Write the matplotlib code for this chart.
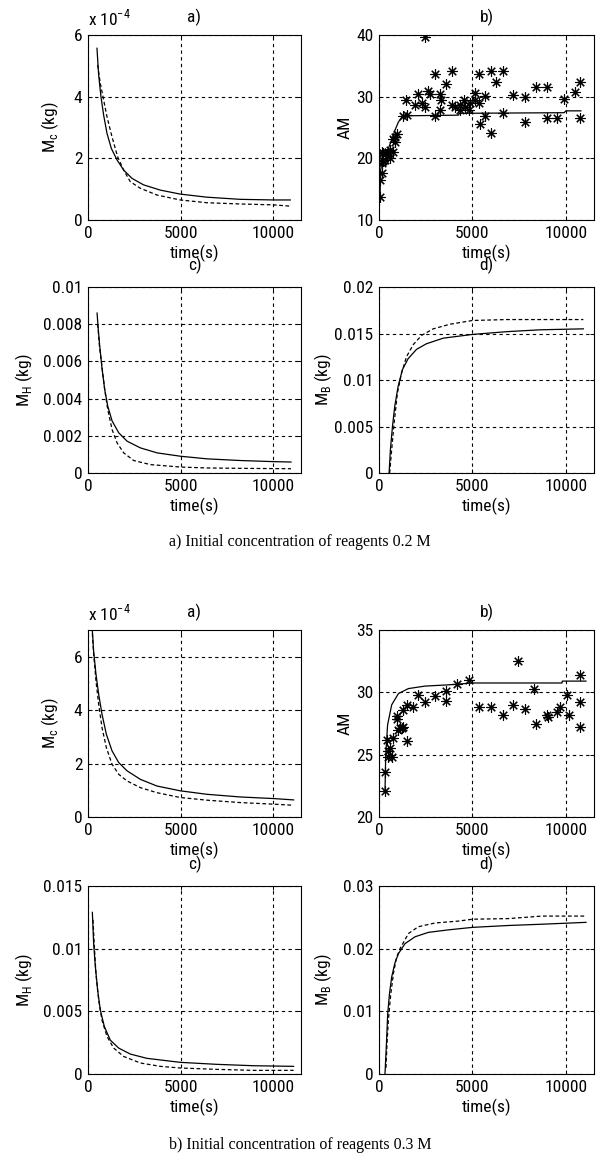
import matplotlib
matplotlib.use('Agg')
import matplotlib.pyplot as plt
from matplotlib.ticker import FuncFormatter

plt.rcParams['font.family'] = ['Roboto Condensed', 'Liberation Sans Narrow', 'DejaVu Sans']
plt.rcParams['font.stretch'] = 'condensed'
plt.rcParams['font.size'] = 12
plt.rcParams['mathtext.fontset'] = 'custom'

# ---------------- 0.2 M ----------------
# a) M_c, in units of 1e-4 kg
t_mc02_sol = [485, 575, 700, 845, 1025, 1260, 1565, 1925, 2375, 3000, 3900, 4980, 6420, 8220, 10020, 10920]
mc02_sol = [5.57, 4.7, 4.0, 3.4, 2.81, 2.32, 1.95, 1.62, 1.35, 1.14, 0.97, 0.84, 0.74, 0.67, 0.65, 0.65]
t_mc02_das = [520, 665, 845, 1025, 1295, 1600, 1925, 2285, 2825, 3720, 4980, 6420, 8220, 10020, 10920]
mc02_das = [5.03, 4.43, 3.89, 3.35, 2.7, 2.05, 1.62, 1.24, 1.03, 0.81, 0.65, 0.56, 0.52, 0.49, 0.45]

# b) AM, model and measurements
t_am02_mod = [55, 90, 180, 320, 500, 680, 860, 1040, 1210, 1480, 4250, 4300, 9900, 10000, 10800]
am02_mod = [13.8, 18.1, 20.0, 20.8, 21.6, 23.0, 24.6, 25.9, 26.6, 26.9, 27.0, 27.3, 27.4, 27.7, 27.7]
t_am02_exp = [55, 55, 140, 180, 230, 320, 410, 500, 590, 770, 860, 860, 950, 770, 230, 140, 590,
              1300, 1430, 1520, 1930, 2110, 2290, 2460, 2460, 2640, 2730, 3000, 3000, 3270, 3270,
              3320, 3590, 3890, 3890, 4070, 4340, 4340, 4520, 4610, 4790, 4880, 5110, 5140, 5360,
              5360, 5410, 5680, 5680, 6000, 6000, 6250, 6625, 6625, 7160, 7820, 7820, 8390, 8980,
              8980, 9520, 9880, 10500, 10770, 10770]
am02_exp = [13.8, 16.5, 17.6, 19.2, 20.8, 19.7, 20.3, 21.1, 20.0, 21.1, 22.7, 23.5, 24.0, 23.2, 19.5,
            21.1, 21.4, 26.9, 29.4, 27.0, 28.6, 30.4, 28.9, 39.7, 28.4, 30.9, 30.5, 33.6, 26.9,
            30.4, 27.8, 29.5, 32.1, 34.2, 28.6, 28.4, 28.6, 27.8, 29.5, 28.4, 27.8, 28.9, 30.6,
            29.5, 28.9, 33.6, 25.5, 30.1, 26.9, 34.1, 24.1, 32.4, 34.1, 27.4, 30.3, 30.0, 25.9,
            31.5, 31.5, 26.6, 26.6, 29.7, 30.8, 32.3, 26.5]

# c) M_H (kg)
t_mh02_sol = [490, 540, 630, 760, 900, 1065, 1300, 1660, 2110, 2830, 3740, 5000, 6440, 8250, 10050, 10960]
mh02_sol = [0.0086, 0.0079, 0.00685, 0.00559, 0.0045, 0.0036, 0.0028, 0.00216, 0.00171, 0.00135,
            0.00108, 0.0009, 0.00076, 0.00067, 0.00061, 0.00059]
t_mh02_das = [525, 615, 760, 900, 1065, 1300, 1570, 1930, 2470, 3380, 5000, 6440, 8250, 10960]
mh02_das = [0.008, 0.00685, 0.00568, 0.0045, 0.00342, 0.00234, 0.00162, 0.00108, 0.00067, 0.00045,
            0.00032, 0.00027, 0.00025, 0.00023]

# d) M_B (kg)
t_mb02_sol = [540, 610, 720, 840, 1020, 1250, 1560, 2010, 2540, 3440, 5000, 6850, 8640, 10930]
mb02_sol = [0.0, 0.0025, 0.005, 0.00714, 0.0093, 0.0111, 0.0123, 0.0133, 0.0139, 0.0145, 0.0149,
            0.0152, 0.0154, 0.0155]
t_mb02_das = [570, 660, 810, 985, 1200, 1470, 1830, 2280, 2900, 3800, 5000, 6850, 8640, 10930]
mb02_das = [0.0, 0.0021, 0.0054, 0.0086, 0.0107, 0.0125, 0.0138, 0.0148, 0.0155, 0.016, 0.0164,
            0.0165, 0.0165, 0.0165]

# ---------------- 0.3 M ----------------
t_mc03_sol = [215, 305, 430, 575, 755, 990, 1295, 1655, 2105, 2825, 3720, 4980, 6420, 8220, 10020, 11100]
mc03_sol = [7.2, 6.2, 5.35, 4.6, 3.85, 3.1, 2.48, 2.04, 1.73, 1.41, 1.16, 0.98, 0.85, 0.75, 0.69, 0.64]
t_mc03_das = [215, 305, 430, 575, 755, 990, 1295, 1655, 2105, 2825, 3720, 4980, 6420, 8220, 10020, 11100]
mc03_das = [7.1, 6.1, 5.1, 4.23, 3.35, 2.6, 1.98, 1.6, 1.35, 1.1, 0.91, 0.73, 0.63, 0.54, 0.48, 0.44]

t_am03_mod = [320, 360, 460, 680, 1040, 1570, 2460, 3710, 5000, 9790, 9800, 11070]
am03_mod = [22.0, 25.0, 27.4, 29.0, 29.9, 30.3, 30.5, 30.6, 30.75, 30.75, 30.9, 30.9]
t_am03_exp = [320, 320, 500, 590, 680, 410, 770, 1480, 1040, 1210, 1300, 950, 950, 1300, 1480, 1840,
              2110, 2460, 3000, 3590, 3590, 4160, 4820, 5360, 6000, 6625, 7160, 7820, 7430, 8270,
              8390, 8980, 9040, 9520, 9700, 10050, 10180, 10770, 10770, 10770, 1125, 500]
am03_exp = [22.1, 23.6, 25.3, 25.5, 24.8, 26.2, 26.3, 26.1, 27.0, 27.1, 27.2, 27.9, 28.1, 28.6, 29.0,
            28.8, 29.8, 29.2, 29.7, 30.1, 29.3, 30.7, 31.0, 28.8, 28.8, 28.2, 29.0, 28.7, 32.5,
            30.3, 27.5, 28.2, 28.0, 28.4, 28.8, 29.8, 28.2, 31.4, 29.2, 27.2, 27.1, 24.8]

t_mh03_sol = [235, 305, 395, 520, 665, 880, 1205, 1655, 2285, 3180, 4980, 6960, 8940, 11100]
mh03_sol = [0.0129, 0.0104, 0.0086, 0.0067, 0.0051, 0.0038, 0.0027, 0.00207, 0.00159, 0.00125,
            0.00093, 0.00077, 0.00066, 0.00061]
t_mh03_das = [270, 340, 430, 575, 755, 1025, 1385, 1925, 2825, 3900, 4980, 6960, 8940, 11100]
mh03_das = [0.0123, 0.0102, 0.008, 0.0059, 0.0043, 0.003, 0.00207, 0.0014, 0.00088, 0.00061,
            0.00048, 0.00037, 0.00029, 0.00029]

t_mb03_sol = [320, 400, 465, 560, 680, 850, 1040, 1390, 1930, 2640, 3710, 5000, 6930, 8710, 11070]
mb03_sol = [0.0, 0.005, 0.0096, 0.0128, 0.0155, 0.0177, 0.0192, 0.0208, 0.0219, 0.0226, 0.023,
            0.0234, 0.0237, 0.0239, 0.0242]
t_mb03_das = [375, 430, 500, 620, 770, 930, 1125, 1570, 2100, 3000, 4250, 5000, 6930, 8710, 11070]
mb03_das = [0.001, 0.005, 0.0085, 0.0125, 0.016, 0.0185, 0.02, 0.0224, 0.0235, 0.0241, 0.0244,
            0.0247, 0.0248, 0.0252, 0.0252]

xticks = [0, 5000, 10000]
captions = ['a) Initial concentration of reagents 0.2 M', 'b) Initial concentration of reagents 0.3 M']

W, H = 601, 1162
fig = plt.figure(figsize=(W / 100, H / 100), dpi=100)


def make_ax(x0, x1, top, bottom):
    return fig.add_axes([x0 / W, 1 - bottom / H, (x1 - x0) / W, (bottom - top) / H])


def style(ax, ylim, yticks, ylabel, labx, title, tpad):
    ax.set_xlim(0, 11500)
    ax.set_ylim(*ylim)
    ax.set_xticks(xticks)
    ax.set_yticks(yticks)
    ax.yaxis.set_major_formatter(FuncFormatter(lambda v, p: '%g' % round(v, 6)))
    ax.tick_params(direction='in', length=3, width=0.7, top=True, right=True, pad=4, labelsize=12.5)
    ax.grid(True, color='k', linestyle=(0, (3, 3)), linewidth=0.8)
    for s in ax.spines.values():
        s.set_linewidth(0.8)
    ax.set_xlabel('time(s)', fontsize=12.5, labelpad=3)
    ax.set_ylabel(ylabel, fontsize=12.5)
    ax.yaxis.set_label_coords(labx, 0.5)
    ax.set_title(title, fontsize=12.5, pad=tpad)


sol = dict(color='k', linewidth=0.9)
das = dict(color='k', linewidth=0.9, linestyle=(0, (3, 2)))
star = dict(color='k', linestyle='none', marker=(8, 2, 0), markersize=7.5, markeredgewidth=0.8)

sets = [
    (t_mc02_sol, mc02_sol, t_mc02_das, mc02_das, t_am02_mod, am02_mod, t_am02_exp, am02_exp,
     t_mh02_sol, mh02_sol, t_mh02_das, mh02_das, t_mb02_sol, mb02_sol, t_mb02_das, mb02_das,
     (0, 6), [0, 2, 4, 6], (10, 40), [10, 20, 30, 40], (0, 0.01), [0, 0.002, 0.004, 0.006, 0.008, 0.01],
     (0, 0.02), [0, 0.005, 0.01, 0.015, 0.02]),
    (t_mc03_sol, mc03_sol, t_mc03_das, mc03_das, t_am03_mod, am03_mod, t_am03_exp, am03_exp,
     t_mh03_sol, mh03_sol, t_mh03_das, mh03_das, t_mb03_sol, mb03_sol, t_mb03_das, mb03_das,
     (0, 7), [0, 2, 4, 6], (20, 35), [20, 25, 30, 35], (0, 0.015), [0, 0.005, 0.01, 0.015],
     (0, 0.03), [0, 0.01, 0.02, 0.03]),
]
rows = [((35, 220), (287, 473), 542), ((630, 817), (886, 1074), 1145)]

for (d, (r1, r2, cap_y), cap) in zip(sets, rows, captions):
    (tms, ms, tmd, md, tam, am, tae, ae, ths, hs, thd, hd, tbs, bs, tbd, bd,
     yl1, yt1, yl2, yt2, yl3, yt3, yl4, yt4) = d

    ax = make_ax(88, 301, *r1)
    ax.plot(tms, ms, **sol)
    ax.plot(tmd, md, **das)
    style(ax, yl1, yt1, 'M$_\\mathregular{c}$ (kg)', -0.128, 'a)', 9)
    ax.text(0, 1.035, 'x 10$^\\mathregular{-4}$', transform=ax.transAxes, fontsize=12.5,
            ha='left', va='bottom')

    ax = make_ax(379, 594, *r1)
    ax.plot(tam, am, **sol)
    ax.plot(tae, ae, **star)
    style(ax, yl2, yt2, 'AM', -0.125, 'b)', 9)

    ax = make_ax(88, 301, *r2)
    ax.plot(ths, hs, **sol)
    ax.plot(thd, hd, **das)
    style(ax, yl3, yt3, 'M$_\\mathregular{H}$ (kg)', -0.25, 'c)', 12)

    ax = make_ax(379, 594, *r2)
    ax.plot(tbs, bs, **sol)
    ax.plot(tbd, bd, **das)
    style(ax, yl4, yt4, 'M$_\\mathregular{B}$ (kg)', -0.21, 'd)', 12)

    fig.text(300 / W, 1 - cap_y / H, cap, family=['Liberation Serif', 'DejaVu Serif'],
             fontsize=11.5, ha='center', va='center', stretch='normal')

fig.savefig('out.png', dpi=100)
